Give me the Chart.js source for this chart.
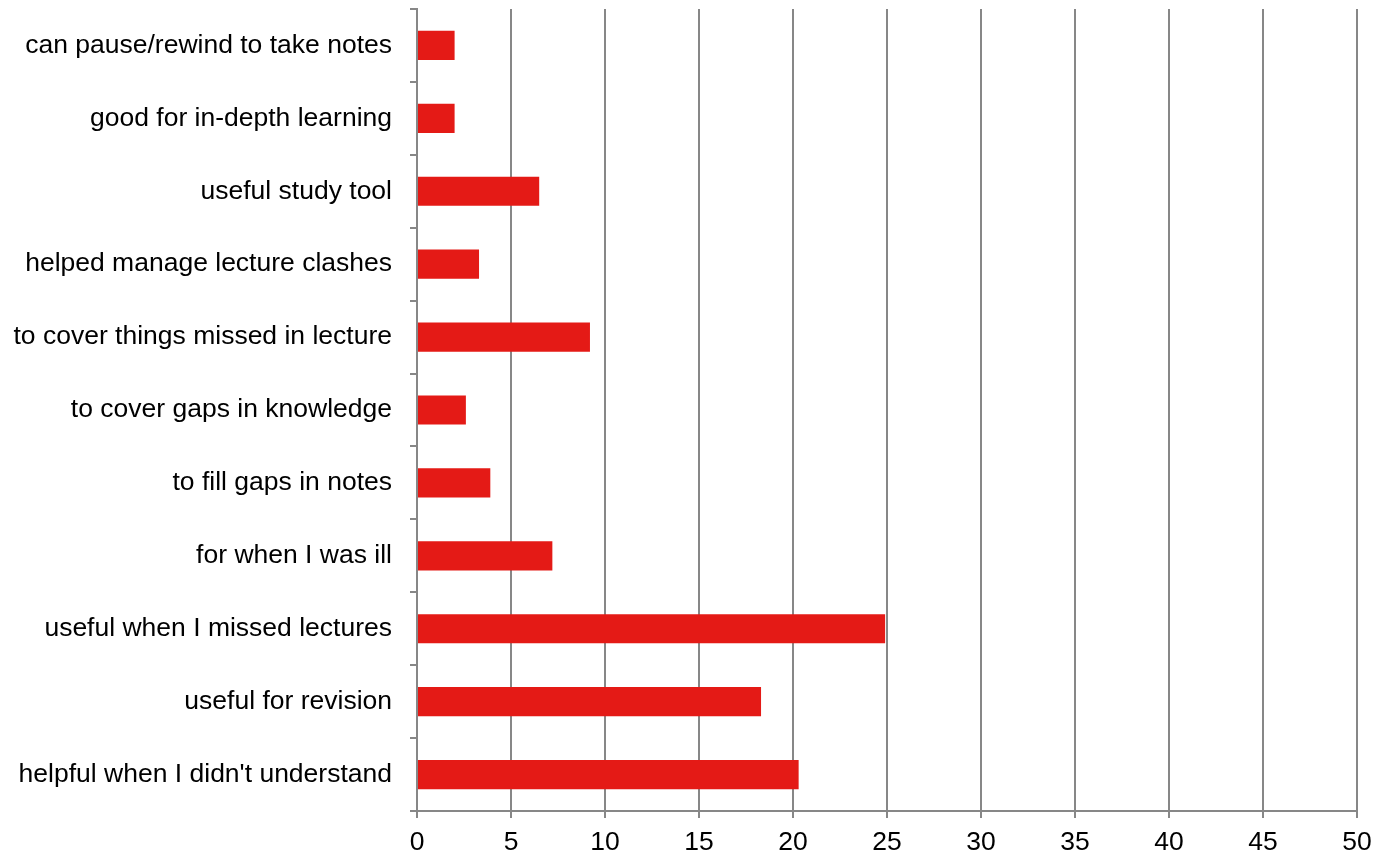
<!DOCTYPE html>
<html>
<head>
<meta charset="utf-8">
<script src="https://cdn.jsdelivr.net/npm/chart.js@4"></script>
<style>
  html, body { margin: 0; padding: 0; background: #fff; }
  #wrap { width: 1383px; height: 855px; }
</style>
</head>
<body>
<div id="wrap"><canvas id="chart"></canvas></div>
<script>
// Reasons, top to bottom as in the picture
const REASONS = [
  'can pause/rewind to take notes',
  'good for in-depth learning',
  'useful study tool',
  'helped manage lecture clashes',
  'to cover things missed in lecture',
  'to cover gaps in knowledge',
  'to fill gaps in notes',
  'for when I was ill',
  'useful when I missed lectures',
  'useful for revision',
  "helpful when I didn't understand",
];
const COUNTS = [2.0, 2.0, 6.5, 3.3, 9.2, 2.6, 3.9, 7.2, 24.9, 18.3, 20.3];
const X_MIN = 0, X_MAX = 50, X_STEP = 5;

const GRID = '#878787';
const FONT = {family: '"Liberation Sans", Arial, sans-serif', size: 26.5};

new Chart(document.getElementById('chart').getContext('2d'), {
  type: 'bar',
  data: {
    labels: REASONS,
    datasets: [{
      data: COUNTS,
      backgroundColor: '#E41A16',
      borderWidth: 0,
      barPercentage: 0.4,
      categoryPercentage: 1.0,
    }],
  },
  options: {
    indexAxis: 'y',
    responsive: true,
    maintainAspectRatio: false,
    animation: false,
    layout: {padding: {top: 9, right: 26, left: 0, bottom: 0}},
    plugins: {legend: {display: false}, tooltip: {enabled: false}},
    scales: {
      x: {
        min: X_MIN, max: X_MAX,
        ticks: {stepSize: X_STEP, color: '#000', font: FONT, padding: 9},
        grid: {color: GRID, lineWidth: 2, tickLength: 7, tickColor: GRID},
        border: {display: true, color: GRID, width: 2},
        afterFit: s => { s.height = 44; s.paddingLeft = 0; s.paddingRight = 0; },
      },
      y: {
        ticks: {color: '#000', font: FONT, padding: 18},
        grid: {display: true, drawOnChartArea: false, offset: true,
               tickLength: 7, color: GRID, lineWidth: 2},
        border: {display: true, color: GRID, width: 2},
        afterFit: s => { s.width = 417; s.paddingTop = 0; s.paddingBottom = 0; },
      },
    },
  },
});
</script>
</body>
</html>
